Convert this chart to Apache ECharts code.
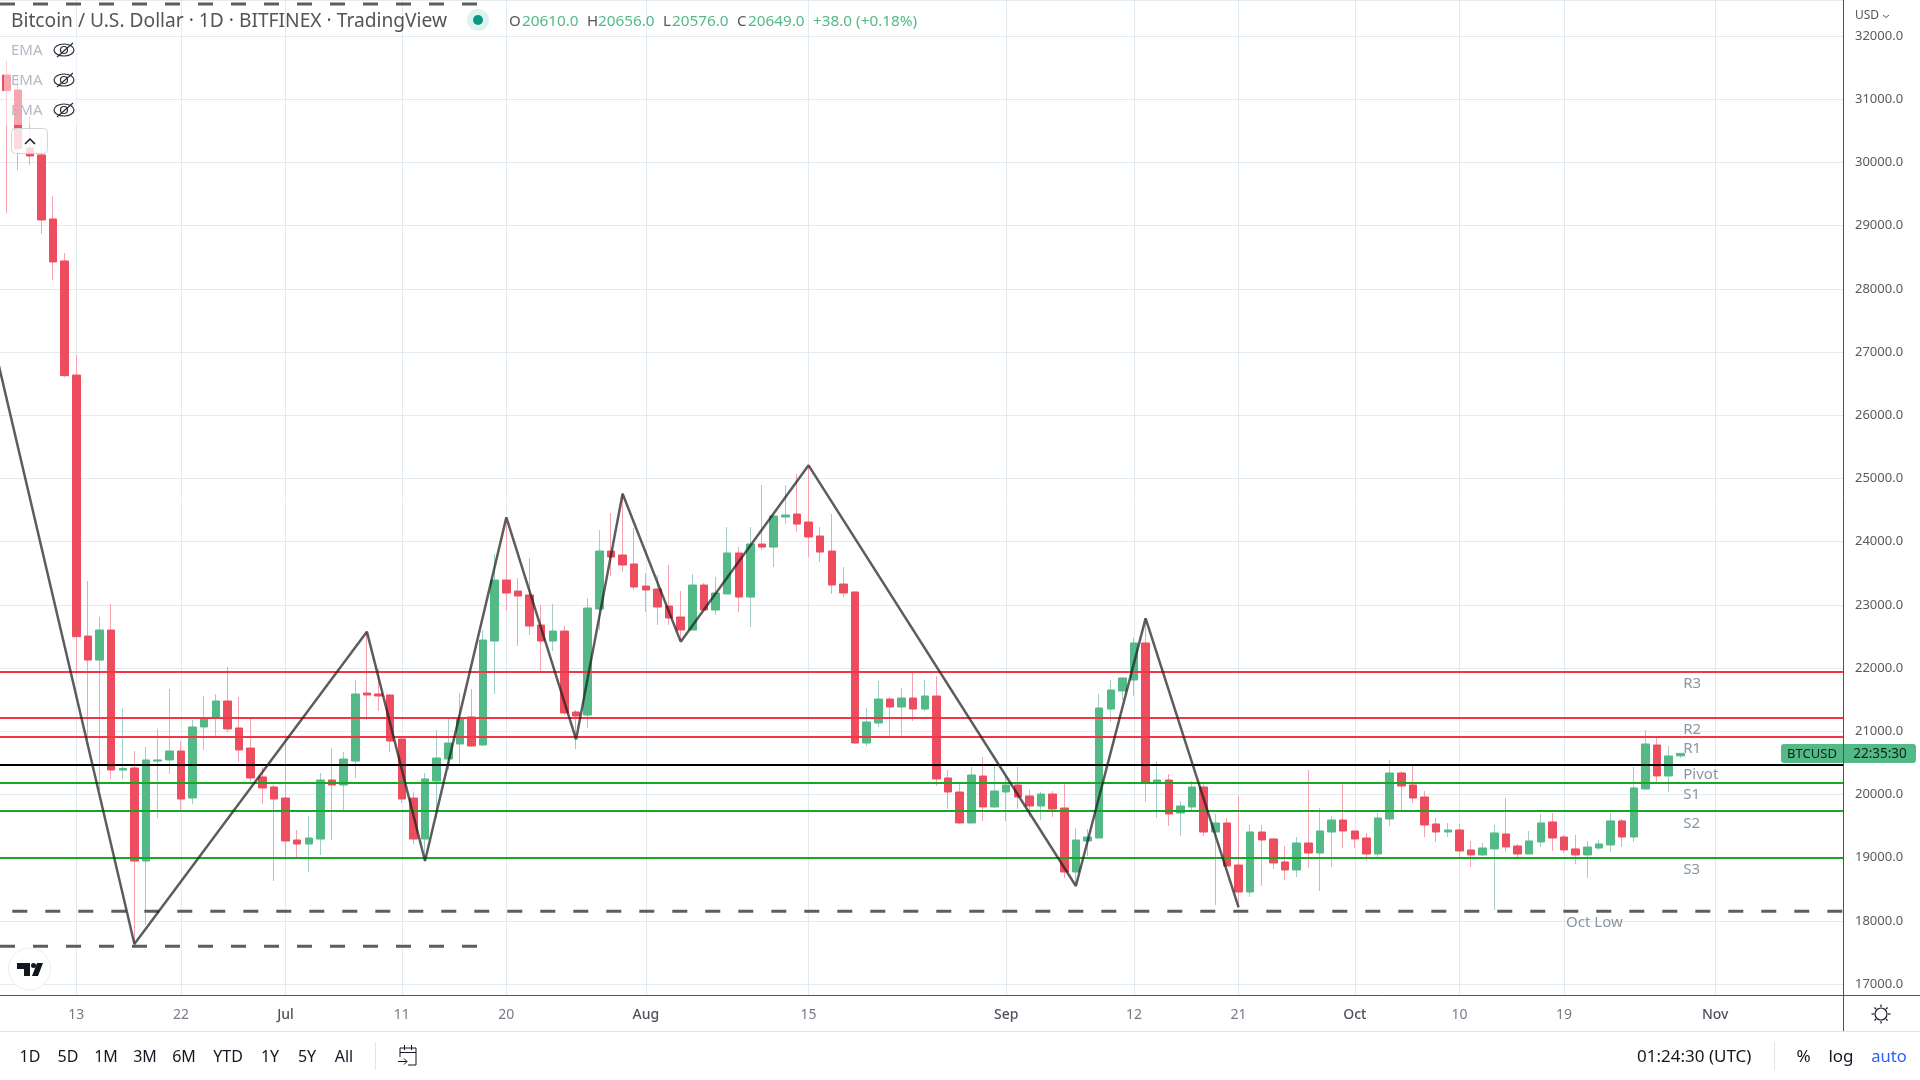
<!DOCTYPE html>
<html>
<head>
<meta charset="utf-8">
<title>BTCUSD daily</title>
<script src="https://cdn.jsdelivr.net/npm/echarts@6/dist/echarts.min.js"></script>
<style>
html, body { margin: 0; padding: 0; background: #fff; }
#chart { width: 1920px; height: 1080px; }
</style>
</head>
<body>
<div id="chart"></div>
<script>
// first candle is 7 Jun, first category is one day earlier so the axis starts left of the canvas
const startDay = Date.UTC(2022, 5, 6);
const dayCount = 160;

const opens = [
    31383, 31146, 30228, 30118, 29105, 28441, 26636, 22506, 22126, 22601,
    20386, 20418, 18946, 20528, 20545, 20687, 19943, 21067, 21225, 21478,
    21051, 20734, 20276, 20117, 19943, 19279, 19215, 19294, 20228, 20149,
    20528, 21604, 21589, 21573, 20877, 19943, 19294, 20212, 20560, 20798,
    21225, 20782, 22427, 23392, 23218, 23155, 22680, 22427, 22585, 21304,
    21256, 22933, 23851, 23788, 23646, 23297, 23250, 22981, 22807, 22601,
    23313, 22918, 23171, 23820, 23123, 23962, 23914, 24389, 24437, 24310,
    24089, 23851, 23329, 23203, 20813, 21130, 21509, 21383, 21525, 21351,
    21557, 20260, 20038, 19548, 20291, 19801, 20038, 20149, 19975, 19817,
    20006, 19785, 18772, 19263, 19310, 21351, 21636, 21810, 22396, 20196,
    20228, 19706, 19801, 20117, 19405, 19548, 18883, 18456, 19405, 19295,
    18931, 18804, 19231, 19073, 19405, 19595, 19421, 19310, 19057, 19611,
    20339, 20149, 19959, 19532, 19405, 19437, 19121, 19042, 19137, 19374,
    19184, 19057, 19247, 19564, 19326, 19137, 19042, 19152, 19200, 19580,
    19326, 20086, 20782, 20292, 20610
];
const closes = [
    31136, 30218, 30102, 29089, 28425, 26626, 22496, 22126, 22601, 20386,
    20412, 18946, 20545, 20545, 20687, 19927, 21067, 21193, 21478, 21035,
    20703, 20260, 20102, 19927, 19263, 19215, 19310, 20228, 20149, 20560,
    21589, 21573, 21557, 20845, 19927, 19294, 20244, 20576, 20813, 21193,
    20766, 22443, 23392, 23187, 23139, 22664, 22427, 22585, 21288, 21241,
    22949, 23851, 23756, 23630, 23282, 23234, 22965, 22791, 22601, 23313,
    22918, 23187, 23820, 23123, 23962, 23914, 24405, 24421, 24278, 24073,
    23835, 23313, 23187, 20813, 21146, 21509, 21383, 21525, 21351, 21557,
    20244, 20038, 19548, 20307, 19801, 20054, 20149, 19959, 19817, 20006,
    19769, 18772, 19279, 19326, 21367, 21652, 21842, 22396, 20196, 20228,
    19690, 19817, 20117, 19405, 19548, 18867, 18456, 19405, 19279, 18915,
    18804, 19231, 19073, 19421, 19595, 19421, 19295, 19057, 19627, 20339,
    20133, 19943, 19516, 19405, 19437, 19105, 19042, 19152, 19390, 19168,
    19057, 19263, 19548, 19310, 19121, 19042, 19168, 19216, 19580, 19326,
    20102, 20798, 20292, 20608, 20649
];
const highs = [
    31605, 31357, 30724, 30408, 29469, 28567, 26953, 23377, 22810, 23013,
    21362, 20687, 20750, 21035, 21668, 20845, 21177, 21557, 21589, 22016,
    21541, 21209, 20434, 20149, 20956, 19437, 19658, 20339, 20734, 20671,
    21810, 22575, 21984, 21589, 20877, 20038, 20339, 21019, 21193, 21604,
    21668, 22601, 23804, 24289, 23424, 23740, 23000, 23013, 22664, 21335,
    23108, 24183, 24452, 24764, 24215, 23503, 23472, 23630, 23218, 23487,
    23345, 23440, 24231, 23914, 24231, 24895, 24437, 24895, 25069, 25212,
    24231, 24437, 23598, 23203, 21367, 21794, 21541, 21684, 21921, 21810,
    21873, 20386, 20165, 20434, 20592, 20450, 20291, 20434, 20070, 20038,
    20054, 20165, 19468, 19453, 21589, 21810, 21858, 22475, 22786, 20529,
    20323, 19896, 20212, 20186, 19690, 19627, 19975, 19516, 19516, 19310,
    19184, 19326, 20386, 19785, 19658, 20165, 19421, 19389, 19706, 20545,
    20371, 20450, 20054, 19627, 19548, 19532, 19263, 19232, 19516, 19943,
    19216, 19421, 19690, 19706, 19358, 19358, 19263, 19279, 19706, 19611,
    20434, 21019, 20893, 20766, 20656
];
const lows = [
    29195, 29880, 29960, 28868, 28140, 26600, 21900, 20861, 20070, 20244,
    20244, 17600, 17934, 19627, 20323, 19753, 19848, 20703, 20924, 20987,
    20513, 20196, 19848, 18630, 18962, 19010, 18772, 19041, 19279, 19753,
    20260, 21177, 21320, 20671, 19864, 19215, 18950, 19627, 20386, 20481,
    20755, 20766, 21589, 22902, 22348, 22522, 21953, 22269, 21256, 20718,
    21051, 22601, 23456, 23519, 23234, 22886, 22680, 22680, 22443, 22601,
    22918, 22839, 23171, 22886, 22649, 23867, 23598, 24278, 24152, 23756,
    23677, 23171, 23123, 20798, 20766, 21067, 20924, 20924, 21161, 21320,
    20133, 19769, 19532, 19548, 19579, 19790, 19579, 19769, 19643, 19595,
    19643, 18677, 18567, 19026, 19310, 21146, 21494, 21557, 19880, 19627,
    19500, 19342, 19753, 19342, 18250, 18867, 18224, 18377, 18551, 18820,
    18646, 18693, 18836, 18472, 18852, 19152, 19152, 18946, 19010, 19500,
    19754, 19864, 19326, 19247, 19326, 19010, 18852, 19026, 18171, 19089,
    19010, 19057, 19168, 19105, 19073, 18899, 18678, 19121, 19089, 19168,
    19247, 20086, 20197, 20038, 20576
];

// pivot levels and their captions
const resistanceLevels = [21940, 21214, 20914];
const pivotLevel = 20465;
const supportLevels = [20186, 19743, 19000];
const levelNames = ['R3', 'R2', 'R1', 'Pivot', 'S1', 'S2', 'S3'];
const levelNamePrices = [21745, 21020, 20725, 20305, 19995, 19540, 18810];
const octLowPrice = 18150;
const octLowNamePrice = 17975;

// hand drawn trend lines
const zigzagDays = [0, 12, 32, 37, 44, 50, 54, 59, 70, 93, 99, 107];
const zigzagPrices = [27048, 17633, 22575, 18947, 24384, 20871, 24758, 22417, 25207, 18551, 22786, 18213];
const juneHighPrice = 32506;
const juneLowPrice = 17596;
const juneLineEndDay = 42;

const tickDays = [7, 16, 25, 35, 44, 56, 70, 87, 98, 107, 117, 126, 135, 148];
const tickTexts = ['13', '22', 'Jul', '11', '20', 'Aug', '15', 'Sep', '12', '21', 'Oct', '10', '19', 'Nov'];

const rangeButtons = ['1D', '5D', '1M', '3M', '6M', 'YTD', '1Y', '5Y', 'All'];
const rangeButtonX = [30, 68, 106, 145, 184, 228, 270, 307, 344];

const GREEN = '#53b987';
const RED = '#ee4d5f';
const GREEN_WICK = '#a3cdc9';
const RED_WICK = '#f6a3b0';
const FONT = '"Noto Sans", sans-serif';

const categories = [];
for (let i = 0; i < dayCount; i++) {
    categories.push(new Date(startDay + i * 86400000).toISOString().slice(0, 10));
}

const emptyCandle = ['-', '-', '-', '-'];
const wickData = [emptyCandle].concat(opens.map((o, i) => [o, closes[i], lows[i], highs[i]]));
const bodyData = [emptyCandle].concat(opens.map((o, i) => [o, closes[i], Math.min(o, closes[i]), Math.max(o, closes[i])]));

const levelLineData = [
    ...resistanceLevels.map(v => ({ yAxis: v, lineStyle: { color: '#f23645', width: 2, type: 'solid' } })),
    { yAxis: pivotLevel, lineStyle: { color: '#000000', width: 2, type: 'solid' } },
    ...supportLevels.map(v => ({ yAxis: v, lineStyle: { color: '#17a823', width: 2, type: 'solid' } }))
];

const dashed = (color) => ({ color: color, width: 3, type: [15, 18] });

function txt(text, x, y, size, color, align, weight) {
    return {
        type: 'text',
        z: 120,
        silent: true,
        style: {
            text: text, x: x, y: y,
            fill: color,
            font: (weight || 'normal') + ' ' + size + 'px ' + FONT,
            align: align || 'left', verticalAlign: 'middle',
            textAlign: align || 'left', textVerticalAlign: 'middle'
        }
    };
}
function seg(x1, y1, x2, y2, color, width) {
    return {
        type: 'line', z: 120, silent: true,
        shape: { x1: x1, y1: y1, x2: x2, y2: y2 },
        style: { stroke: color, lineWidth: width || 1 }
    };
}
function eye(cy) {
    const ink = '#2a2e39';
    return [
        { type: 'ellipse', z: 120, silent: true, shape: { cx: 64, cy: cy, rx: 10, ry: 6 }, style: { fill: 'none', stroke: ink, lineWidth: 1.2 } },
        { type: 'circle', z: 120, silent: true, shape: { cx: 64, cy: cy, r: 3.5 }, style: { fill: 'none', stroke: ink, lineWidth: 1.2 } },
        seg(57, cy + 7, 73, cy - 7, ink, 1.2)
    ];
}

const graphics = [
    // EMA legend sits over the first candles
    { type: 'rect', z: 110, silent: true, shape: { x: 4, y: 37, width: 73, height: 88 }, style: { fill: 'rgba(255,255,255,0.5)' } },
    txt('EMA', 11, 51, 15, '#b6b9c5'),
    txt('EMA', 11, 81, 15, '#b6b9c5'),
    txt('EMA', 11, 111, 15, '#b6b9c5'),
    ...eye(50), ...eye(80), ...eye(110),
    { type: 'rect', z: 110, silent: true, shape: { x: 11.5, y: 128.5, width: 36, height: 25, r: 4 }, style: { fill: 'rgba(255,255,255,0.8)', stroke: '#d1d4dc', lineWidth: 1 } },
    { type: 'polyline', z: 120, silent: true, shape: { points: [[25, 144], [30, 139], [35, 144]] }, style: { fill: 'none', stroke: '#131722', lineWidth: 1.5 } },

    // header
    txt('Bitcoin / U.S. Dollar · 1D · BITFINEX · TradingView', 11, 22, 19.2, '#555555'),
    { type: 'circle', z: 120, silent: true, shape: { cx: 478, cy: 20, r: 11 }, style: { fill: '#dff3ee' } },
    { type: 'circle', z: 120, silent: true, shape: { cx: 478, cy: 20, r: 5 }, style: { fill: '#089981' } },
    txt('O', 509, 22, 15, '#555555'), txt('20610.0', 522, 22, 15.3, GREEN),
    txt('H', 587, 22, 15, '#555555'), txt('20656.0', 598, 22, 15.3, GREEN),
    txt('L', 663, 22, 15, '#555555'), txt('20576.0', 672, 22, 15.3, GREEN),
    txt('C', 737, 22, 15, '#555555'), txt('20649.0', 748, 22, 15.3, GREEN),
    txt('+38.0 (+0.18%)', 813, 22, 15.3, GREEN),

    // price scale extras
    txt('USD', 1855, 16, 12, '#555555'),
    { type: 'polyline', z: 120, silent: true, shape: { points: [[1883, 15], [1886, 17.5], [1889, 15]] }, style: { fill: 'none', stroke: '#555555', lineWidth: 1 } },
    { type: 'rect', z: 115, silent: true, shape: { x: 1781, y: 744, width: 62, height: 19, r: [3, 0, 0, 3] }, style: { fill: GREEN } },
    { type: 'rect', z: 115, silent: true, shape: { x: 1844, y: 744, width: 72, height: 19, r: [0, 3, 3, 0] }, style: { fill: GREEN } },
    txt('BTCUSD', 1812, 754, 13, '#10231a', 'center'),
    txt('22:35:30', 1880, 754, 13.5, '#10231a', 'center'),

    // logo
    { type: 'circle', z: 115, silent: true, shape: { cx: 29.5, cy: 969, r: 21 }, style: { fill: '#ffffff', stroke: '#ececec', lineWidth: 1 } },
    { type: 'polygon', z: 120, silent: true, shape: { points: [[17, 963], [30, 963], [30, 976], [24, 976], [24, 969], [17, 969]] }, style: { fill: '#131722' } },
    { type: 'circle', z: 120, silent: true, shape: { cx: 33.5, cy: 965.5, r: 2.5 }, style: { fill: '#131722' } },
    { type: 'polygon', z: 120, silent: true, shape: { points: [[32, 976], [37, 963], [43, 963], [38, 976]] }, style: { fill: '#131722' } },

    // scale frame, the rest of it comes from the axes
    seg(1843.5, 995, 1843.5, 1031, '#50535e', 1),
    seg(1843, 995.5, 1920, 995.5, '#50535e', 1),
    seg(0, 1031.5, 1920, 1031.5, '#e0e3eb', 1),

    // gear
    { type: 'circle', z: 120, silent: true, shape: { cx: 1881, cy: 1014, r: 6 }, style: { fill: 'none', stroke: '#131722', lineWidth: 1.2 } },
    seg(1881, 1004.5, 1881, 1007, '#131722', 1.2), seg(1881, 1021, 1881, 1023.5, '#131722', 1.2),
    seg(1871.5, 1014, 1874, 1014, '#131722', 1.2), seg(1888, 1014, 1890.5, 1014, '#131722', 1.2),
    seg(1874.5, 1007.5, 1876, 1009, '#131722', 1.2), seg(1886, 1019, 1887.5, 1020.5, '#131722', 1.2),
    seg(1887.5, 1007.5, 1886, 1009, '#131722', 1.2), seg(1876, 1019, 1874.5, 1020.5, '#131722', 1.2),

    // footer
    ...rangeButtons.map((b, i) => txt(b, rangeButtonX[i], 1057, 16, '#131722', 'center')),
    seg(375.5, 1042, 375.5, 1070, '#e0e3eb', 1),
    { type: 'polyline', z: 120, silent: true, shape: { points: [[400, 1057], [400, 1048], [416, 1048], [416, 1065], [408, 1065]] }, style: { fill: 'none', stroke: '#131722', lineWidth: 1 } },
    seg(400, 1052.5, 416, 1052.5, '#131722', 1),
    seg(404.5, 1045, 404.5, 1050, '#131722', 1), seg(411.5, 1045, 411.5, 1050, '#131722', 1),
    seg(398, 1061.5, 407, 1061.5, '#131722', 1),
    { type: 'polyline', z: 120, silent: true, shape: { points: [[404, 1058.5], [407, 1061.5], [404, 1064.5]] }, style: { fill: 'none', stroke: '#131722', lineWidth: 1 } },
    txt('01:24:30 (UTC)', 1637, 1057, 17, '#131722'),
    seg(1774.5, 1042, 1774.5, 1070, '#e0e3eb', 1),
    txt('%', 1803.5, 1057, 17, '#131722', 'center'),
    txt('log', 1841, 1057, 17, '#131722', 'center'),
    txt('auto', 1889, 1057, 16.5, '#2962ff', 'center')
];

const chart = echarts.init(document.getElementById('chart'));

chart.setOption({
    animation: false,
    backgroundColor: '#ffffff',
    textStyle: { fontFamily: FONT },
    graphic: { elements: graphics },
    grid: { left: -5.04, width: 1848.04, top: 0, height: 995, outerBoundsMode: 'none' },
    xAxis: {
        type: 'category',
        data: categories,
        boundaryGap: false,
        axisLine: { lineStyle: { color: '#50535e', width: 1 } },
        axisTick: { show: false },
        axisLabel: {
            interval: (idx) => tickDays.includes(idx),
            formatter: (value, idx) => {
                const t = tickTexts[tickDays.indexOf(idx)] || '';
                return /\d/.test(t) ? t : '{month|' + t + '}';
            },
            color: '#787b86',
            fontSize: 14,
            margin: 13,
            rich: { month: { color: '#50535e', fontSize: 14, fontWeight: 500 } }
        },
        splitLine: {
            show: true,
            interval: (idx) => tickDays.includes(idx),
            lineStyle: { color: '#e3ebf1', width: 1 }
        }
    },
    yAxis: {
        type: 'value',
        position: 'right',
        min: 16826,
        max: 32570,
        splitNumber: 15,
        minInterval: 1000,
        maxInterval: 1000,
        scale: true,
        axisLine: { show: true, lineStyle: { color: '#50535e', width: 1 } },
        axisTick: { show: false },
        axisLabel: {
            formatter: (v) => (v % 1000 === 0 ? v.toFixed(1) : ''),
            color: '#5a5a5a',
            fontSize: 13,
            margin: 12,
            padding: [2, 0, 0, 0]
        },
        splitLine: { show: true, lineStyle: { color: '#e3ebf1', width: 1 } }
    },
    series: [
        {
            name: 'wicks',
            type: 'candlestick',
            z: 2,
            silent: true,
            barWidth: 1,
            data: wickData,
            itemStyle: {
                color: GREEN_WICK, color0: RED_WICK,
                borderColor: GREEN_WICK, borderColor0: RED_WICK, borderColorDoji: GREEN_WICK,
                borderWidth: 1
            }
        },
        {
            name: 'bodies',
            type: 'candlestick',
            z: 3,
            silent: true,
            barWidth: 8,
            data: bodyData,
            itemStyle: {
                color: GREEN, color0: RED,
                borderColor: GREEN, borderColor0: RED, borderColorDoji: GREEN,
                borderWidth: 1
            }
        },
        {
            name: 'levels',
            type: 'line',
            z: 4,
            silent: true,
            data: [],
            markLine: {
                silent: true,
                symbol: 'none',
                label: { show: false },
                data: levelLineData
            }
        },
        {
            name: 'zigzag',
            type: 'line',
            z: 6,
            silent: true,
            symbol: 'none',
            data: zigzagDays.map((d, i) => [categories[d], zigzagPrices[i]]),
            lineStyle: { color: 'rgba(30,30,30,0.72)', width: 2.5 }
        },
        {
            name: 'june high',
            type: 'line',
            z: 5,
            silent: true,
            symbol: 'none',
            data: [[categories[0], juneHighPrice], [categories[juneLineEndDay], juneHighPrice]],
            lineStyle: Object.assign(dashed('#5d5d5d'), { dashOffset: 27.96 })
        },
        {
            name: 'june low',
            type: 'line',
            z: 5,
            silent: true,
            symbol: 'none',
            data: [[categories[0], juneLowPrice], [categories[juneLineEndDay], juneLowPrice]],
            lineStyle: Object.assign(dashed('#5d5d5d'), { dashOffset: 27.96 })
        },
        {
            name: 'oct low',
            type: 'line',
            z: 5,
            silent: true,
            symbol: 'none',
            data: [[categories[0], octLowPrice], [categories[dayCount - 1], octLowPrice]],
            lineStyle: Object.assign(dashed('#5d5d5d'), { dashOffset: 15.66 })
        },
        {
            name: 'level names',
            type: 'scatter',
            z: 7,
            silent: true,
            symbolSize: 0,
            data: levelNames.map((n, i) => ({ name: n, value: [categories[145], levelNamePrices[i]] })),
            label: {
                show: true,
                position: 'right',
                distance: 3,
                formatter: '{b}',
                fontSize: 15,
                color: '#6b7a88'
            }
        },
        {
            name: 'oct low name',
            type: 'scatter',
            z: 7,
            silent: true,
            symbolSize: 0,
            data: [{ name: 'Oct Low', value: [categories[138], octLowNamePrice] }],
            label: {
                show: true,
                position: 'inside',
                offset: [-4.5, 0],
                formatter: '{b}',
                fontSize: 15,
                color: '#6b7a88'
            }
        }
    ]
});

window.addEventListener('resize', () => chart.resize());
</script>
</body>
</html>
